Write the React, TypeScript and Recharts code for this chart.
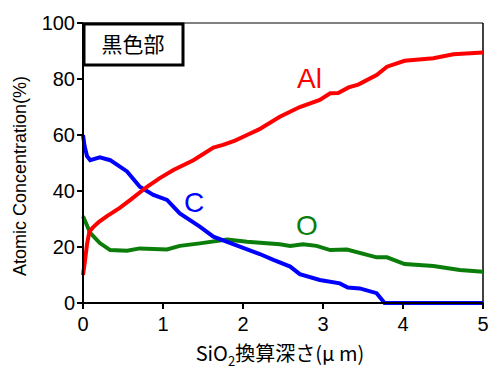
import { LineChart, Line, XAxis, YAxis, ReferenceLine } from 'recharts';

const alX = [0, 0.02, 0.05, 0.08, 0.125, 0.2, 0.3, 0.46, 0.6, 0.8, 0.96, 1.13, 1.38, 1.63, 1.75, 1.9, 2.05, 2.2, 2.46, 2.71, 2.96, 3.09, 3.19, 3.32, 3.44, 3.67, 3.8, 4.02, 4.38, 4.63, 5.0];
const alY = [10, 14, 21, 25.5, 27, 29, 31, 34, 37, 41.5, 44.6, 47.5, 51, 55.5, 56.5, 58, 60, 62, 66.5, 70, 72.5, 74.9, 75, 77, 78, 81.4, 84.4, 86.5, 87.4, 88.8, 89.5];

const cX = [0, 0.02, 0.05, 0.09, 0.21, 0.34, 0.55, 0.71, 0.88, 1.05, 1.21, 1.46, 1.63, 1.96, 2.21, 2.38, 2.59, 2.71, 2.96, 3.21, 3.31, 3.46, 3.67, 3.77, 5.0];
const cY = [60, 56, 52.5, 51, 52, 51, 47, 41.5, 38.6, 36.8, 32, 27.3, 23.7, 20.1, 17.5, 15.4, 13, 10.3, 8.2, 7, 5.5, 5.2, 3.5, 0, 0];

const oX = [0, 0.03, 0.09, 0.21, 0.34, 0.55, 0.71, 1.05, 1.21, 1.46, 1.8, 2.05, 2.46, 2.59, 2.75, 2.92, 3.09, 3.3, 3.67, 3.8, 4.02, 4.38, 4.71, 5.0];
const oY = [31, 29, 25, 21.4, 18.9, 18.7, 19.5, 19.1, 20.4, 21.3, 22.7, 21.9, 21, 20.4, 21, 20.4, 18.9, 19.1, 16.3, 16.3, 13.9, 13.2, 11.8, 11.2];

const xTicks = [0, 1, 2, 3, 4, 5];
const yTicks = [0, 20, 40, 60, 80, 100];

const zip = (xs: number[], ys: number[]) => xs.map((x, i) => ({ x, y: ys[i] }));

const latin = '"Liberation Sans", Arial, sans-serif';
const cjk = '"Noto Sans CJK JP", sans-serif';

export default function App() {
  return (
    <div style={{ position: 'absolute', left: 0, top: 0, width: 500, height: 376, background: '#fff' }}>
      <style>{'body{margin:0}'}</style>
      <LineChart width={500} height={376} margin={{ top: 23, right: 17, bottom: 0, left: 0 }}>
        <XAxis
          type="number"
          dataKey="x"
          domain={[0, 5]}
          ticks={xTicks}
          allowDuplicatedCategory={false}
          height={73}
          tickSize={6}
          tickMargin={8}
          stroke="#000"
          strokeWidth={2}
          tick={{ fill: '#000', fontSize: 20, fontFamily: latin }}
        />
        <YAxis
          type="number"
          domain={[0, 100]}
          ticks={yTicks}
          width={83}
          tickSize={6}
          tickMargin={2}
          stroke="#000"
          strokeWidth={2}
          tick={{ fill: '#000', fontSize: 20, fontFamily: latin }}
        />
        <ReferenceLine y={100} stroke="#000" strokeWidth={1} />
        <ReferenceLine x={5} stroke="#000" strokeWidth={1.5} />
        <Line data={zip(oX, oY)} dataKey="y" stroke="#0a7d0a" strokeWidth={4} dot={false} type="linear" isAnimationActive={false} />
        <Line data={zip(cX, cY)} dataKey="y" stroke="#0000ff" strokeWidth={4} dot={false} type="linear" isAnimationActive={false} />
        <Line data={zip(alX, alY)} dataKey="y" stroke="#ff0000" strokeWidth={4} dot={false} type="linear" isAnimationActive={false} />
        <rect x={84} y={24} width={99} height={41} fill="#fff" stroke="#000" strokeWidth={3} />
        <text x={133} y={52} textAnchor="middle" fontSize={21} fontFamily={cjk} fill="#000">黒色部</text>
        <text x={297} y={88} fontSize={28} fontFamily={latin} fill="#ff0000">Al</text>
        <text x={184} y={212} fontSize={28} fontFamily={latin} fill="#0000ff">C</text>
        <text x={296} y={235} fontSize={28} fontFamily={latin} fill="#0a7d0a">O</text>
        <text
          transform="translate(26,176) rotate(-90)"
          textAnchor="middle"
          fontSize={18}
          fontFamily={latin}
          fill="#000"
        >
          Atomic Concentration(%)
        </text>
        <text x={280} y={361} textAnchor="middle" fontSize={20} fontFamily={cjk} fill="#000">
          SiO<tspan fontSize={13} dy={5}>2</tspan>
          <tspan dy={-5}>換算深さ(μ m)</tspan>
        </text>
      </LineChart>
    </div>
  );
}
